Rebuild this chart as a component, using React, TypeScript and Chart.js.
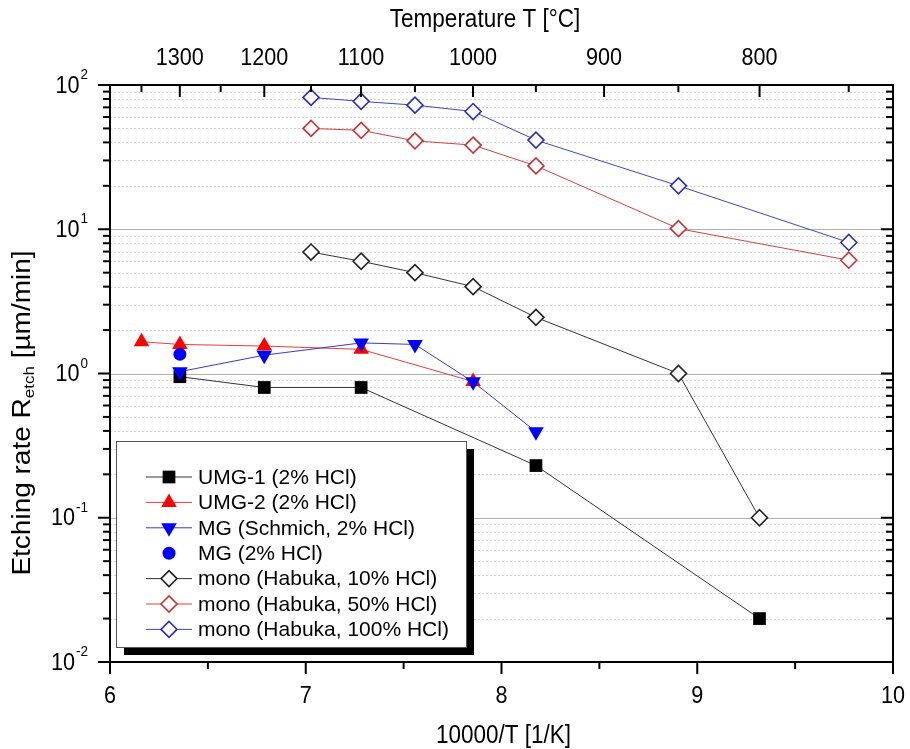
import React, { useEffect, useRef } from 'react';
import { Chart, registerables } from 'chart.js';
import { drawPoint } from 'chart.js/helpers';

Chart.register(...registerables);

// ---------- data (x = 10000/T [1/K], y = etching rate [µm/min]) ----------
const umg1X = [6.357, 6.788, 7.283, 8.176, 9.318];
const umg1Y = [0.95, 0.8, 0.8, 0.23, 0.02];

const umg2X = [6.161, 6.357, 6.788, 7.283, 7.855];
const umg2Y = [1.66, 1.59, 1.55, 1.47, 0.88];

const mgSchmichX = [6.357, 6.788, 7.283, 7.558, 7.855, 8.176];
const mgSchmichY = [1.03, 1.34, 1.63, 1.59, 0.875, 0.395];

const mgX = [6.357];
const mgY = [1.36];

const mono10X = [7.027, 7.283, 7.558, 7.855, 8.176, 8.904, 9.318];
const mono10Y = [6.95, 6.0, 5.0, 4.0, 2.45, 1.0, 0.1];

const mono50X = [7.027, 7.283, 7.558, 7.855, 8.176, 8.904, 9.774];
const mono50Y = [50, 48.5, 41, 38.3, 27.5, 10.1, 6.1];

const mono100X = [7.027, 7.283, 7.558, 7.855, 8.176, 8.904, 9.774];
const mono100Y = [82, 77, 72.5, 65.5, 41.5, 20, 8.1];

const seriesLabels = [
  'UMG-1 (2% HCl)',
  'UMG-2 (2% HCl)',
  'MG (Schmich, 2% HCl)',
  'MG (2% HCl)',
  'mono (Habuka, 10% HCl)',
  'mono (Habuka, 50% HCl)',
  'mono (Habuka, 100% HCl)',
];

const bottomTicks = [6, 7, 8, 9, 10];
const bottomMinorTicks = [6.5, 7.5, 8.5, 9.5];
const topTempLabels = [1300, 1200, 1100, 1000, 900, 800];
const topTempMinor = [1350, 1250, 1150, 1050, 950, 850, 750];
const yDecades = [-2, -1, 0, 1, 2];

const xTitle = '10000/T [1/K]';
const topTitle = 'Temperature T [°C]';
const yTitleMain = 'Etching rate R';
const yTitleSub = 'etch';
const yTitleEnd = ' [µm/min]';

const FONT = '"Liberation Sans", Arial, Helvetica, sans-serif';
const HS = 0.9; // horizontal squeeze of axis text

const pts = (xs: number[], ys: number[]) => xs.map((x, i) => ({ x, y: ys[i] }));
const tempToX = (t: number) => 10000 / (t + 273.15);

export default function App() {
  const ref = useRef<HTMLCanvasElement>(null);

  useEffect(() => {
    const canvas = ref.current!;

    const datasets: any[] = [
      {
        label: seriesLabels[0], data: pts(umg1X, umg1Y), order: 7,
        borderColor: '#333333', borderWidth: 1, showLine: true,
        pointStyle: 'rect', pointRadius: 9, pointBackgroundColor: '#000000',
        pointBorderColor: '#000000', pointBorderWidth: 0,
      },
      {
        label: seriesLabels[1], data: pts(umg2X, umg2Y), order: 6,
        borderColor: '#e04040', borderWidth: 1, showLine: true,
        pointStyle: 'triangle', pointRadius: 9, pointBackgroundColor: '#ff0000',
        pointBorderColor: '#ff0000', pointBorderWidth: 0,
      },
      {
        label: seriesLabels[2], data: pts(mgSchmichX, mgSchmichY), order: 5,
        borderColor: '#3a3ac8', borderWidth: 1, showLine: true,
        pointStyle: 'triangle', pointRotation: 180, pointRadius: 9,
        pointBackgroundColor: '#0000ff', pointBorderColor: '#0000ff', pointBorderWidth: 0,
      },
      {
        label: seriesLabels[3], data: pts(mgX, mgY), order: 4,
        borderColor: '#0000ff', borderWidth: 1, showLine: false,
        pointStyle: 'circle', pointRadius: 6.5, pointBackgroundColor: '#0000ff',
        pointBorderColor: '#0000ff', pointBorderWidth: 0,
      },
      {
        label: seriesLabels[4], data: pts(mono10X, mono10Y), order: 3,
        borderColor: '#333333', borderWidth: 1, showLine: true,
        pointStyle: 'rectRot', pointRadius: 8, pointBackgroundColor: '#ffffff',
        pointBorderColor: '#222222', pointBorderWidth: 1.6,
      },
      {
        label: seriesLabels[5], data: pts(mono50X, mono50Y), order: 2,
        borderColor: '#cc4444', borderWidth: 1, showLine: true,
        pointStyle: 'rectRot', pointRadius: 8, pointBackgroundColor: '#ffffff',
        pointBorderColor: '#c83434', pointBorderWidth: 1.6,
      },
      {
        label: seriesLabels[6], data: pts(mono100X, mono100Y), order: 1,
        borderColor: '#4048b8', borderWidth: 1, showLine: true,
        pointStyle: 'rectRot', pointRadius: 8, pointBackgroundColor: '#ffffff',
        pointBorderColor: '#2a30b0', pointBorderWidth: 1.6,
      },
    ];

    // draw text squeezed horizontally
    const sText = (ctx: any, text: string, x: number, y: number, size: number, align: string) => {
      ctx.save();
      ctx.font = `${size}px ${FONT}`;
      ctx.textAlign = align;
      ctx.textBaseline = 'middle';
      ctx.translate(x, y);
      ctx.scale(HS, 1);
      ctx.fillText(text, 0, 0);
      ctx.restore();
    };
    const sWidth = (ctx: any, text: string, size: number) => {
      ctx.save();
      ctx.font = `${size}px ${FONT}`;
      const w = ctx.measureText(text).width * HS;
      ctx.restore();
      return w;
    };

    const framePlugin = {
      id: 'originFrame',
      beforeDraw(chart: any) {
        const { ctx } = chart;
        ctx.save();
        ctx.fillStyle = '#ffffff';
        ctx.fillRect(0, 0, chart.width, chart.height);
        ctx.restore();
      },
      beforeDatasetsDraw(chart: any) {
        const { ctx, chartArea: a } = chart;
        const ys = chart.scales.y;
        ctx.save();
        ctx.strokeStyle = '#d2d2d2';
        ctx.lineWidth = 1;
        ctx.setLineDash([2, 2]);
        for (let d = -2; d <= 1; d++) {
          for (let m = 2; m <= 9; m++) {
            const py = Math.round(ys.getPixelForValue(m * Math.pow(10, d))) + 0.5;
            ctx.beginPath();
            ctx.moveTo(a.left, py);
            ctx.lineTo(a.right, py);
            ctx.stroke();
          }
        }
        ctx.setLineDash([]);
        ctx.strokeStyle = '#b0b0b0';
        ctx.lineWidth = 1.2;
        for (const d of [-1, 0, 1]) {
          const py = Math.round(ys.getPixelForValue(Math.pow(10, d))) + 0.5;
          ctx.beginPath();
          ctx.moveTo(a.left, py);
          ctx.lineTo(a.right, py);
          ctx.stroke();
        }
        ctx.restore();
      },
      afterDatasetsDraw(chart: any) {
        const { ctx, chartArea: a } = chart;
        const xs = chart.scales.x;
        const ys = chart.scales.y;
        ctx.save();
        ctx.strokeStyle = '#000000';
        ctx.fillStyle = '#000000';

        const line = (x1: number, y1: number, x2: number, y2: number, w: number) => {
          ctx.lineWidth = w;
          ctx.beginPath();
          ctx.moveTo(x1, y1);
          ctx.lineTo(x2, y2);
          ctx.stroke();
        };
        for (const d of yDecades) {
          const py = ys.getPixelForValue(Math.pow(10, d));
          line(a.left - 12, py, a.left, py, 2);
          line(a.right, py, a.right - 12, py, 2);
          if (d < 2) {
            for (let m = 2; m <= 9; m++) {
              const pm = ys.getPixelForValue(m * Math.pow(10, d));
              line(a.left - 7, pm, a.left, pm, 2);
              line(a.right, pm, a.right - 7, pm, 2);
            }
          }
        }
        for (const v of bottomTicks) {
          const px = xs.getPixelForValue(v);
          line(px, a.bottom, px, a.bottom + 12, 2);
        }
        for (const v of bottomMinorTicks) {
          const px = xs.getPixelForValue(v);
          line(px, a.bottom, px, a.bottom + 7, 2);
        }
        for (const t of topTempLabels) {
          const px = xs.getPixelForValue(tempToX(t));
          line(px, a.top, px, a.top + 12, 2);
        }
        for (const t of topTempMinor) {
          const px = xs.getPixelForValue(tempToX(t));
          line(px, a.top, px, a.top + 7, 2);
        }

        ctx.lineWidth = 2;
        ctx.strokeRect(a.left, a.top, a.right - a.left, a.bottom - a.top);

        // tick labels
        ctx.fillStyle = '#000000';
        for (const v of bottomTicks) {
          sText(ctx, String(v), xs.getPixelForValue(v), a.bottom + 34, 24, 'center');
        }
        for (const t of topTempLabels) {
          sText(ctx, String(t), xs.getPixelForValue(tempToX(t)), a.top - 27, 24, 'center');
        }
        for (const d of yDecades) {
          const py = ys.getPixelForValue(Math.pow(10, d));
          const exp = String(d);
          const ew = sWidth(ctx, exp, 15);
          const right = a.left - 22;
          sText(ctx, exp, right - ew, py - 10, 15, 'left');
          sText(ctx, '10', right - ew - 1, py + 1, 24, 'right');
        }

        // axis titles
        sText(ctx, xTitle, (a.left + a.right) / 2 + 2, 736, 25, 'center');
        sText(ctx, topTitle, 485, 20, 25, 'center');

        // y title (rotated, with subscript)
        ctx.save();
        ctx.translate(23, 413);
        ctx.rotate(-Math.PI / 2);
        ctx.scale(1, HS);
        ctx.textBaseline = 'middle';
        ctx.font = `28px ${FONT}`;
        const w1 = ctx.measureText(yTitleMain).width;
        const w3 = ctx.measureText(yTitleEnd).width;
        ctx.font = `17px ${FONT}`;
        const w2 = ctx.measureText(yTitleSub).width;
        const total = w1 + w2 + w3;
        let cx = -total / 2;
        ctx.textAlign = 'left';
        ctx.font = `28px ${FONT}`;
        ctx.fillText(yTitleMain, cx, 0);
        cx += w1;
        ctx.font = `17px ${FONT}`;
        ctx.fillText(yTitleSub, cx, 8);
        cx += w2;
        ctx.font = `28px ${FONT}`;
        ctx.fillText(yTitleEnd, cx, 0);
        ctx.restore();

        // legend
        const lx = 116, ly = 441, lw = 350, lh = 206;
        ctx.fillStyle = '#000000';
        ctx.fillRect(lx + 8, ly + 8, lw, lh);
        ctx.fillStyle = '#ffffff';
        ctx.fillRect(lx, ly, lw, lh);
        ctx.strokeStyle = '#555555';
        ctx.lineWidth = 1;
        ctx.strokeRect(lx + 0.5, ly + 0.5, lw, lh);

        chart.data.datasets.forEach((ds: any, i: number) => {
          const ry = 477 + i * 25.4;
          if (ds.showLine) {
            ctx.strokeStyle = ds.borderColor;
            ctx.lineWidth = 1;
            ctx.beginPath();
            ctx.moveTo(146, ry);
            ctx.lineTo(192, ry);
            ctx.stroke();
          }
          ctx.fillStyle = ds.pointBackgroundColor;
          ctx.strokeStyle = ds.pointBorderColor;
          ctx.lineWidth = ds.pointBorderWidth;
          drawPoint(ctx, {
            pointStyle: ds.pointStyle,
            rotation: ds.pointRotation || 0,
            radius: ds.pointRadius,
            borderWidth: ds.pointBorderWidth,
          }, 169, ry);
          ctx.fillStyle = '#000000';
          ctx.font = `21px ${FONT}`;
          ctx.textAlign = 'left';
          ctx.textBaseline = 'middle';
          ctx.fillText(ds.label, 198, ry + 1);
        });

        ctx.restore();
      },
    };

    const chart = new Chart(canvas, {
      type: 'line',
      data: { datasets },
      options: {
        animation: false,
        responsive: false,
        maintainAspectRatio: false,
        devicePixelRatio: 1,
        layout: { padding: { left: 110, right: 17, top: 85, bottom: 87 } },
        elements: { line: { tension: 0 } },
        scales: {
          x: { type: 'linear', min: 6, max: 10, display: false },
          y: { type: 'logarithmic', min: 0.01, max: 100, display: false },
        },
        plugins: {
          legend: { display: false },
          tooltip: { enabled: false },
        },
      } as any,
      plugins: [framePlugin],
    });

    return () => chart.destroy();
  }, []);

  return (
    <div style={{ position: 'absolute', left: 0, top: 0, width: 910, height: 749, background: '#fff' }}>
      <canvas ref={ref} width={910} height={749} style={{ display: 'block', width: 910, height: 749 }} />
    </div>
  );
}
